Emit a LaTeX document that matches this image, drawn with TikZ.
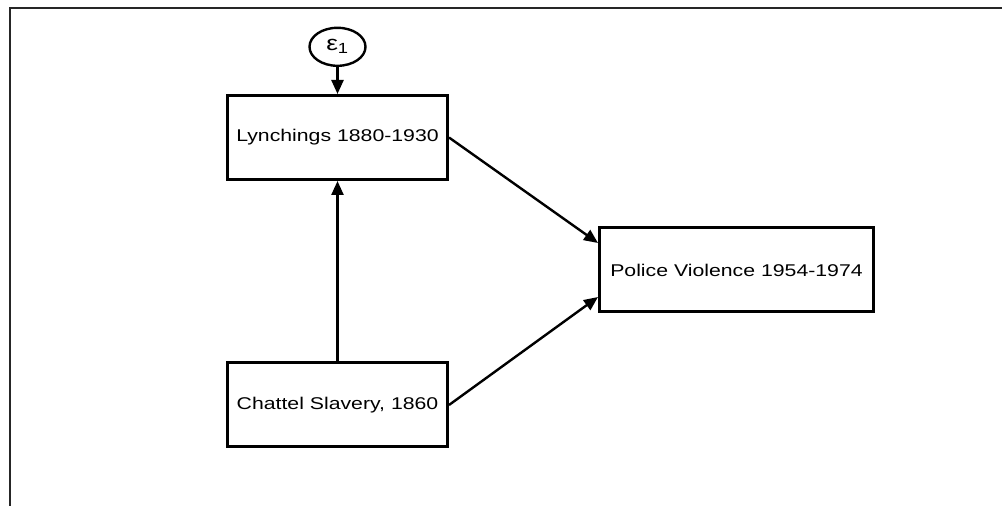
\documentclass[tikz,border=0pt]{standalone}
\usepackage{fontspec}
\setmainfont{Liberation Sans}[FakeStretch=1.25]
\usepackage{tikz}
\usetikzlibrary{arrows.meta}
\usetikzlibrary{positioning}
\usetikzlibrary{calc}
\usetikzlibrary{shapes.geometric}
\newcommand{\vnode}[4]{\node(#1)[item,minimum width=#3] at #2 {#4}}

\begin{document}
\begin{tikzpicture}[
        x=1pt, y=1pt,
        every node/.style={font=\fontsize{17}{20}\selectfont},
        item/.style={rectangle,minimum height=84pt,inner sep=0pt,
                     line width=3pt,draw=black},
        err/.style={ellipse,minimum width=56pt,minimum height=38pt,
                    inner sep=0pt,line width=2.4pt,draw=black,
                    font=\fontsize{21}{24}\selectfont},
        effect/.style={line width=2.4pt,-{Triangle[length=14pt,width=12pt]}},
        frame/.style={line width=2pt,draw=black!85}
      ]
      \useasboundingbox (0,0) rectangle (1002,506);

      % frame: top and left edge only
      \draw[frame] (10,0) -- (10,498) -- (1002,498);

      % the three variables
      \vnode{lynch}{(337.5,368.5)}{220pt}{Lynchings 1880-1930};
      \vnode{slavery}{(337.5,101)}{220pt}{Chattel Slavery, 1860};
      \vnode{police}{(736.5,236)}{274pt}{Police Violence 1954-1974};

      % error term
      \node(e1)[err,above=27pt of lynch] {ε\textsubscript{1}};

      % paths
      \draw[effect] (e1) -- (lynch);
      \draw[effect] (slavery) -- (lynch);
      \draw[effect] (lynch.east) -- ([yshift=27pt]police.west);
      \draw[effect] (slavery.east) -- ([yshift=-27pt]police.west);
    \end{tikzpicture}
\end{document}
